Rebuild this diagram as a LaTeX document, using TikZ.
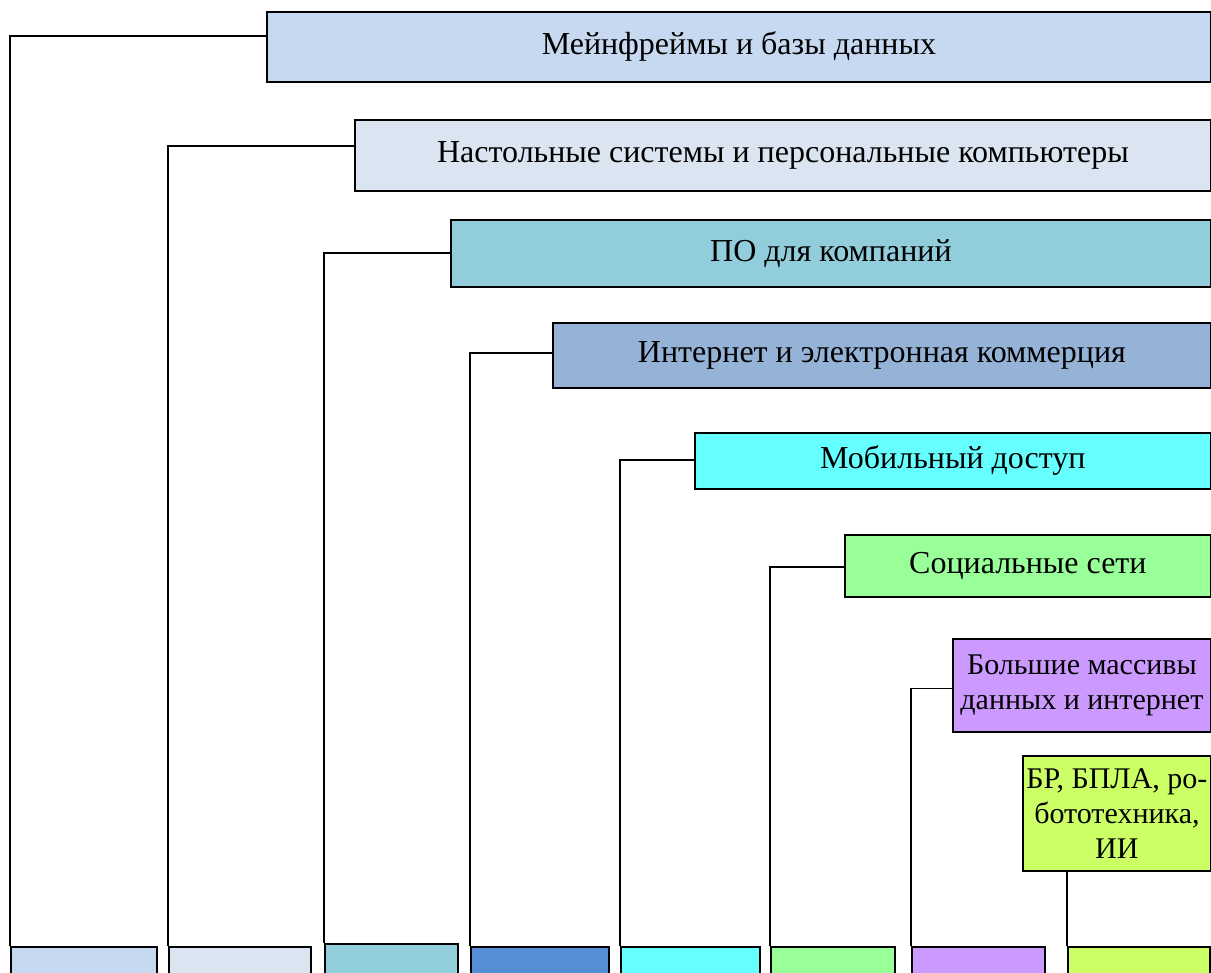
\documentclass[tikz,border=0pt]{standalone}
\usepackage{fontspec}
\setmainfont{Liberation Serif}

\tikzset{
  topbox/.style={draw=black,line width=1.8pt,anchor=north west,inner sep=2pt,
                 font=\fontsize{32}{36}\selectfont,align=center},
  botbox/.style={draw=black,line width=1.8pt,anchor=north west,minimum height=60},
  link/.style={line width=1.8pt,color=black}
}

\begin{document}
\begin{tikzpicture}[x=1pt,y=-1pt]
% ------------------------------------------------ box colors
\definecolor{c_main}{RGB}{198,217,240}   %#C6D9F0
\definecolor{c_desk}{RGB}{219,229,241}   %#DBE5F1
\definecolor{c_soft}{RGB}{146,205,220}   %#92CDDC
\definecolor{c_web}{RGB}{149,179,215}    %#95B3D7
\definecolor{c_webd}{RGB}{85,142,213}    %#558ED5
\definecolor{c_mob}{RGB}{102,255,255}    %#66FFFF
\definecolor{c_soc}{RGB}{153,255,153}    %#99FF99
\definecolor{c_big}{RGB}{204,153,255}    %#CC99FF
\definecolor{c_ai}{RGB}{204,255,102}     %#CCFF66

\useasboundingbox (0,0) rectangle (1211,973);
\clip (0,0) rectangle (1211,973);

% ------------------------------------------------ upper stairs
\node[topbox,fill=c_main,minimum width=944,minimum height=70] (t1) at (266,11)  {Мейнфреймы и базы данных};
\node[topbox,fill=c_desk,minimum width=856,minimum height=71] (t2) at (354,119) {Настольные системы и персональные компьютеры};
\node[topbox,fill=c_soft,minimum width=760,minimum height=67] (t3) at (450,219) {ПО для компаний};
\node[topbox,fill=c_web, minimum width=658,minimum height=65] (t4) at (552,322) {Интернет и электронная коммерция};
\node[topbox,fill=c_mob, minimum width=516,minimum height=56] (t5) at (694,432) {Мобильный доступ};
\node[topbox,fill=c_soc, minimum width=366,minimum height=62] (t6) at (844,534) {Социальные сети};
\node[topbox,fill=c_big, minimum width=258,minimum height=93,
      font=\fontsize{30}{35}\selectfont] (t7) at (952,638) {Большие массивы\\данных и интернет};
\node[topbox,fill=c_ai,  minimum width=188,minimum height=115,
      font=\fontsize{30}{35}\selectfont] (t8) at (1022,755) {БР, БПЛА, ро-\\бототехника,\\ИИ};

% ------------------------------------------------ lower row
\node[botbox,fill=c_main,minimum width=146] (b1) at (10,946)  {};
\node[botbox,fill=c_desk,minimum width=142] (b2) at (168,946) {};
\node[botbox,fill=c_soft,minimum width=133] (b3) at (324,943) {};
\node[botbox,fill=c_webd,minimum width=138] (b4) at (470,946) {};
\node[botbox,fill=c_mob, minimum width=139] (b5) at (620,946) {};
\node[botbox,fill=c_soc, minimum width=124] (b6) at (770,946) {};
\node[botbox,fill=c_big, minimum width=133] (b7) at (911,946) {};
\node[botbox,fill=c_ai,  minimum width=142] (b8) at (1067,946) {};

% ------------------------------------------------ connectors
\foreach \i/\dy in {1/11,2/9,3/0,4/2,5/1,6/-1,7/-3}
  \draw[link] ([yshift=\dy pt]t\i.west) -| (b\i.north west);
\draw[link] (b8.north west |- t8.south) -- (b8.north west);

\end{tikzpicture}
\end{document}
